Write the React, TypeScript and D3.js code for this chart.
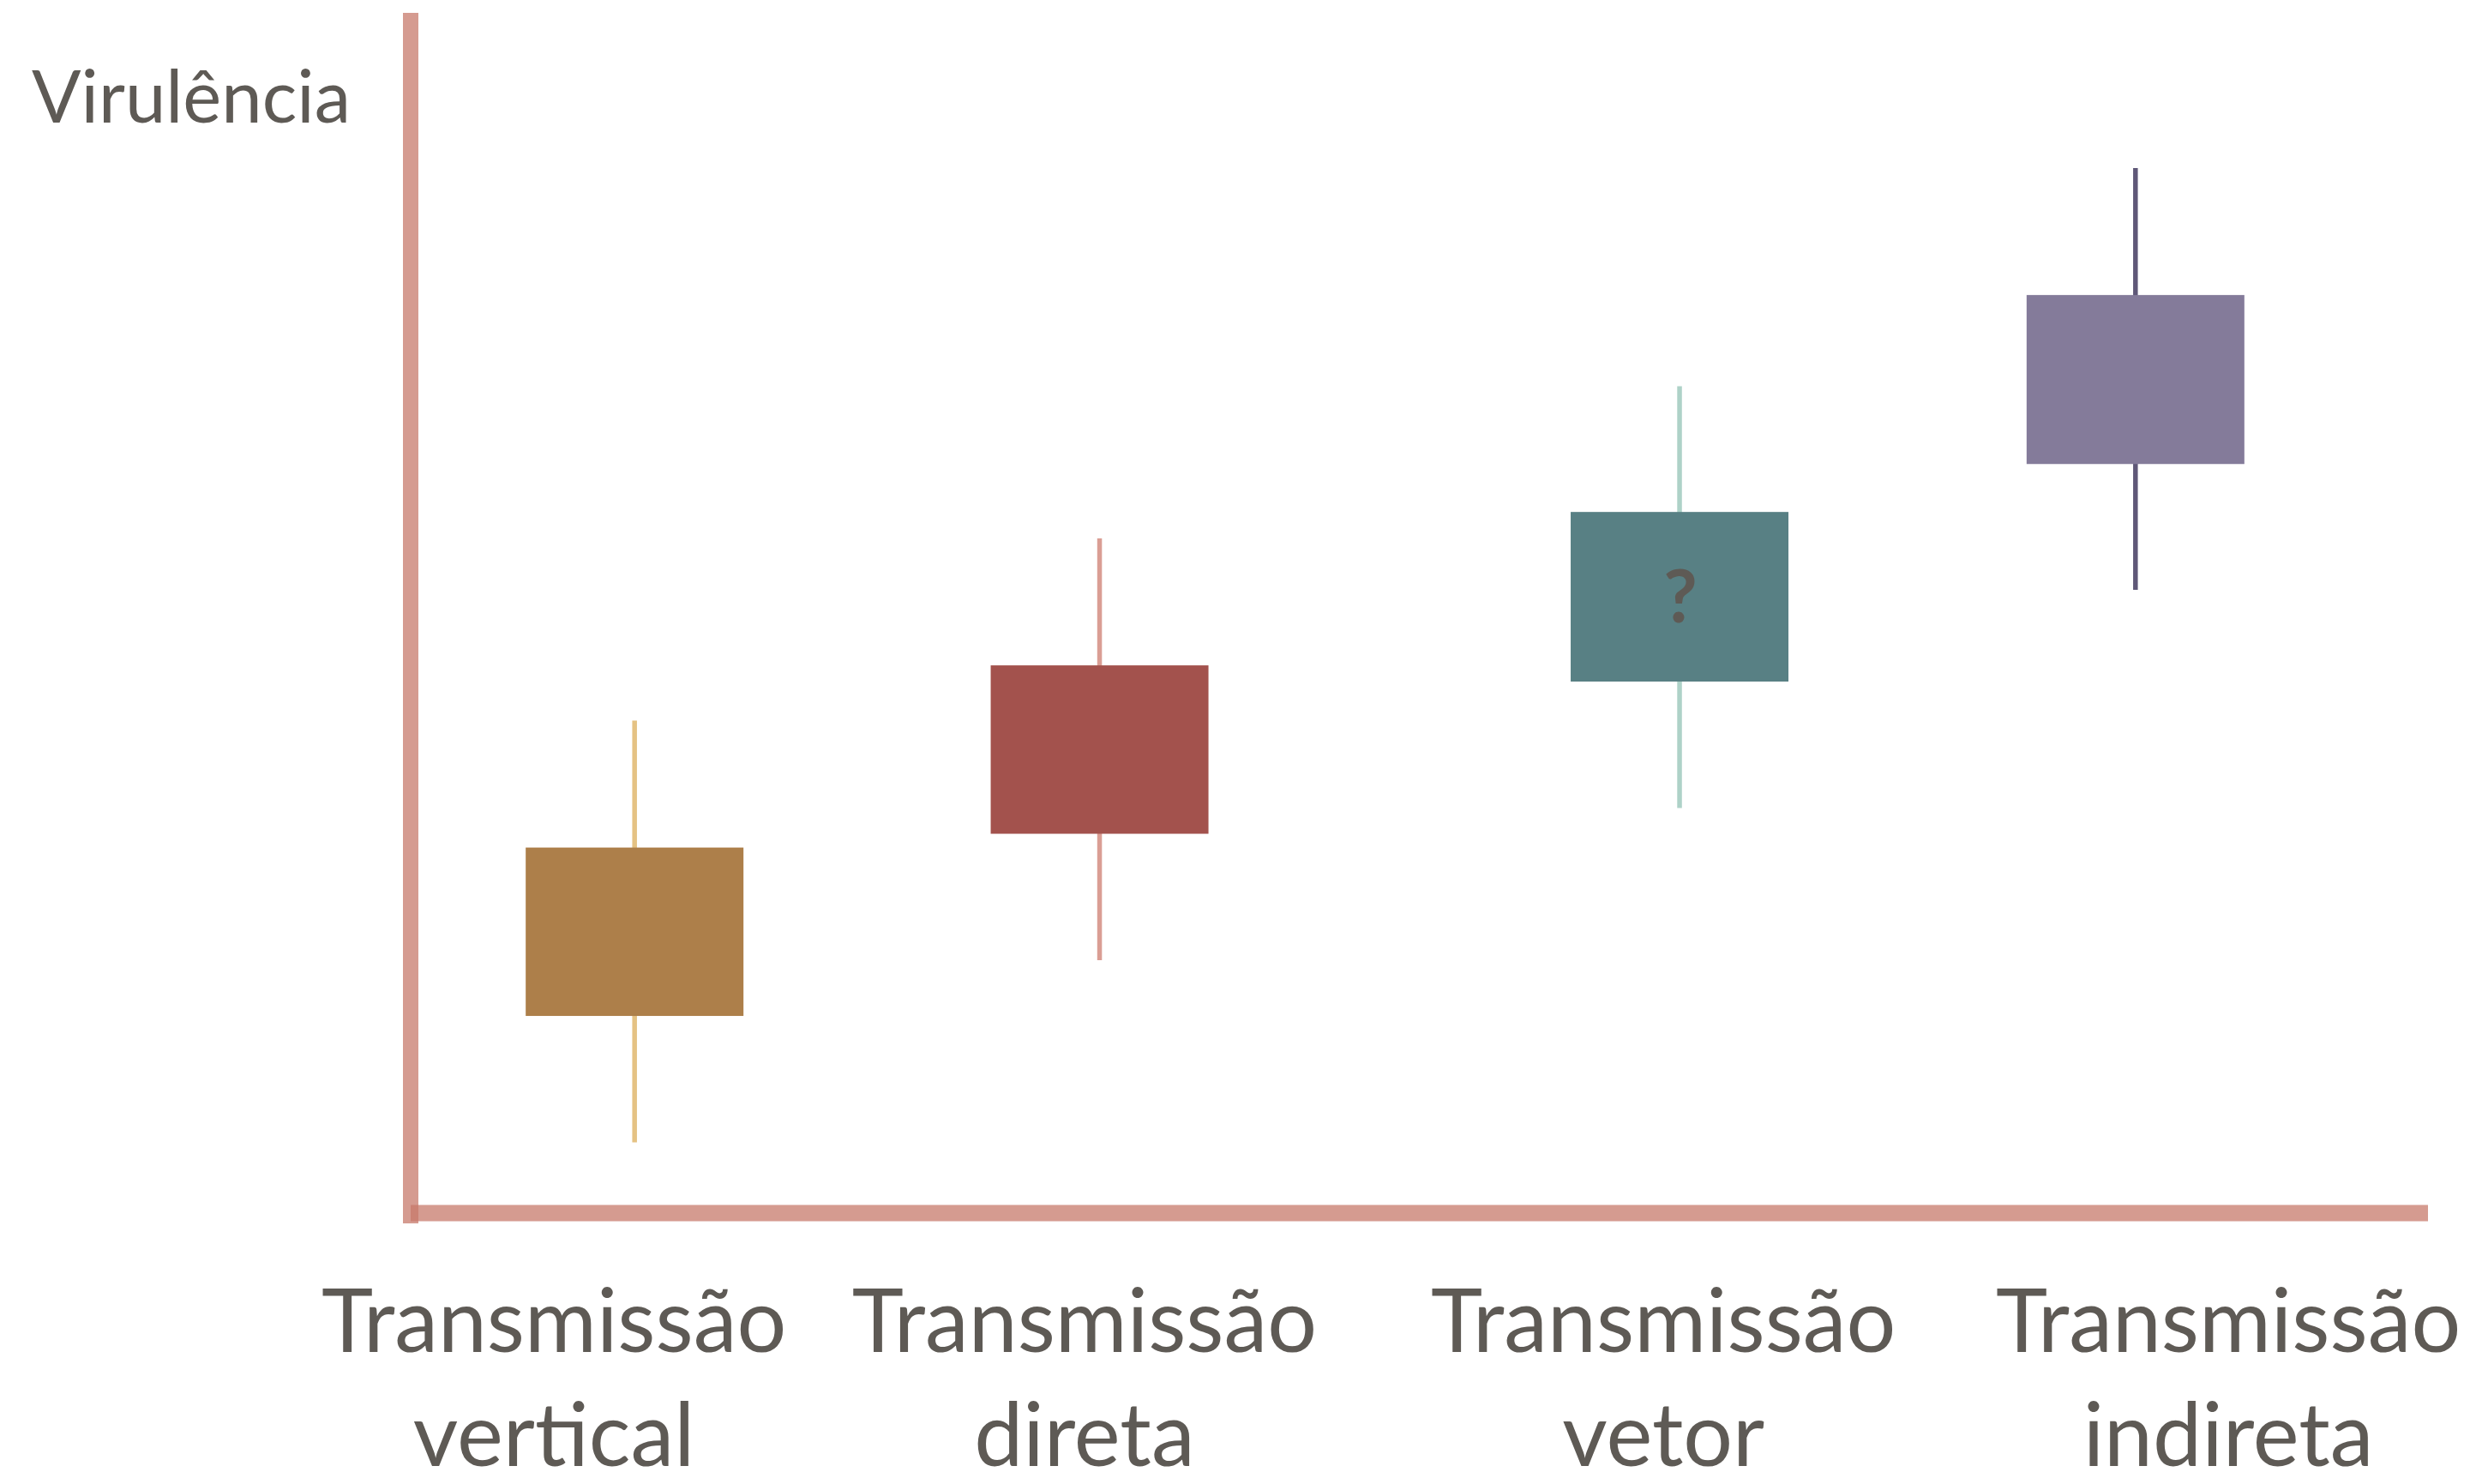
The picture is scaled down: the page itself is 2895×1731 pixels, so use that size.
import React from "react";
import * as d3 from "d3";

const categories = ["vertical", "direta", "vetor", "indireta"];
const labelLine1 = "Transmissão";
const boxPos = [11.1, 34.15, 62.9, 85.5];
const labelPos = [7.1, 33.4, 62.1, 90.1];
const whiskerLow = [5.9, 21.1, 33.8, 52.0];
const q1 = [16.45, 31.65, 44.35, 62.5];
const q3 = [30.5, 45.7, 58.5, 76.6];
const whiskerHigh = [41.1, 56.3, 69.0, 87.2];
const boxColors = ["#AD7F4A", "#A3524D", "#588084", "#847B9A"];
const whiskerColors = ["#E5C283", "#DA9E94", "#AED2C8", "#5F5878"];
const boxNotes = ["", "", "?", ""];
const yTitle = "Virulência";

const W = 2895;
const H = 1731;
const TEXT = "#5E5A55";
const FONT = "Lato, 'Open Sans', sans-serif";

export default function App() {
  const x = d3.scaleLinear().domain([0, 100]).range([479, 2832]);
  const y = d3.scaleLinear().domain([0, 100]).range([1415, 17]);
  const boxW = 254;
  const axisColor = "rgb(199,122,107)";

  return (
    <svg width={W} height={H} style={{ position: "absolute", left: 0, top: 0, background: "#fff" }}>
      <line x1={x(0)} x2={x(0)} y1={15} y2={y(0) + 12} stroke={axisColor} strokeOpacity={0.75} strokeWidth={18} />
      <line x1={x(0)} x2={x(100)} y1={y(0)} y2={y(0)} stroke={axisColor} strokeOpacity={0.75} strokeWidth={19} />

      {categories.map((c, i) => {
        const cx = x(boxPos[i]);
        return (
          <g key={c}>
            <line x1={cx} x2={cx} y1={y(whiskerHigh[i])} y2={y(whiskerLow[i])} stroke={whiskerColors[i]} strokeWidth={5.5} />
            <rect x={cx - boxW / 2} y={y(q3[i])} width={boxW} height={y(q1[i]) - y(q3[i])} fill={boxColors[i]} />
            {boxNotes[i] && (
              <text x={cx + 1} y={(y(q1[i]) + y(q3[i])) / 2 + 30} textAnchor="middle" fontFamily={FONT} fontWeight={700} fontSize={86} fill={TEXT}>
                {boxNotes[i]}
              </text>
            )}
            <text x={x(labelPos[i])} y={1577} textAnchor="middle" fontFamily={FONT} fontSize={102} fill={TEXT}>
              {labelLine1}
            </text>
            <text x={x(labelPos[i])} y={1710} textAnchor="middle" fontFamily={FONT} fontSize={102} fill={TEXT}>
              {c}
            </text>
          </g>
        );
      })}

      <text x={37} y={143} fontFamily={FONT} fontSize={85} fill={TEXT}>
        {yTitle}
      </text>
    </svg>
  );
}
